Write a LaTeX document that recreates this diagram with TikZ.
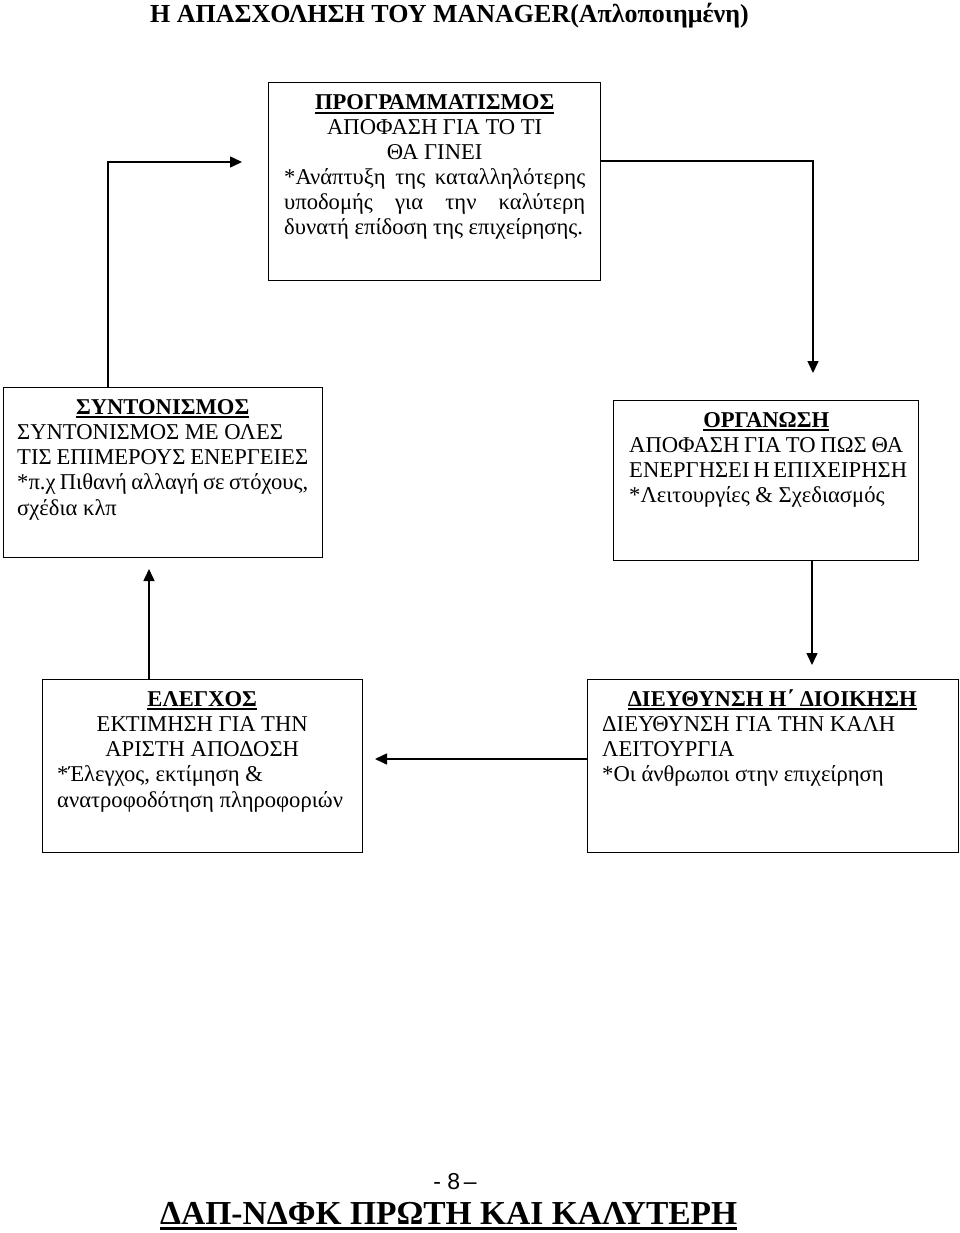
\documentclass[tikz,border=0pt]{standalone}
\usepackage{fontspec}
\setmainfont{Liberation Serif}
\newfontfamily\sansf{Liberation Sans}
\usetikzlibrary{arrows.meta,calc}
\newcommand\myul[1]{\vtop{\hbox{\bfseries #1}\kern2pt\hrule height1.5pt}}
\newcommand\lnC[1]{\hbox to\hsize{\hfil#1\hfil}}
\newcommand\lnL[1]{\hbox to\hsize{#1\hfil}}
\newcommand\lnJ[1]{\hbox to\hsize{#1}}
\begin{document}
\begin{tikzpicture}[x=1pt,y=-1pt,
  box/.style={draw, line width=1.4pt, inner sep=0pt, anchor=north west},
  conn/.style={line width=1.5pt, -{Triangle[length=12pt,width=11pt]}},
  txt/.style={inner sep=0pt, anchor=base west, font=\fontsize{22.6}{25.3}\selectfont}]
\fill[white] (0,0) rectangle (960,1233);
\useasboundingbox (0,0) rectangle (960,1233);

% title
\node[inner sep=0pt, anchor=base west, font=\fontsize{26}{30}\selectfont\bfseries] (title) at (150,23) {Η ΑΠΑΣΧΟΛΗΣΗ ΤΟΥ MANAGER(Απλοποιημένη)};

% boxes
\node[box, minimum width=332pt, minimum height=198pt] (plan) at (268,82) {};
\node[box, minimum width=319pt, minimum height=170pt] (sync) at (3,387) {};
\node[box, minimum width=305pt, minimum height=160pt] (org) at (613,400) {};
\node[box, minimum width=320pt, minimum height=173pt] (ctrl) at (42,679) {};
\node[box, minimum width=371pt, minimum height=173pt] (dir) at (587,679) {};

% texts
\node[txt] (plantxt) at (284,110) {\vtop{\hsize=301pt\baselineskip=25pt
  \lnC{\myul{ΠΡΟΓΡΑΜΜΑΤΙΣΜΟΣ}}
  \lnC{ΑΠΟΦΑΣΗ ΓΙΑ ΤΟ ΤΙ}
  \lnC{ΘΑ ΓΙΝΕΙ}
  \lnJ{*Ανάπτυξη\hfill της\hfill καταλληλότερης}
  \lnJ{υποδομής\hfill για\hfill την\hfill καλύτερη}
  \lnL{δυνατή επίδοση της επιχείρησης.}}};

\node[txt] (synctxt) at (17,414) {\vtop{\hsize=291pt\baselineskip=25.3pt
  \lnC{\myul{ΣΥΝΤΟΝΙΣΜΟΣ}}
  \lnL{ΣΥΝΤΟΝΙΣΜΟΣ ΜΕ ΟΛΕΣ}
  \lnL{ΤΙΣ ΕΠΙΜΕΡΟΥΣ ΕΝΕΡΓΕΙΕΣ}
  \lnL{*π.χ Πιθανή αλλαγή σε στόχους,}
  \lnL{σχέδια κλπ}}};

\node[txt] (orgtxt) at (629,427) {\vtop{\hsize=274pt\baselineskip=25.3pt
  \lnC{\myul{ΟΡΓΑΝΩΣΗ}}
  \lnL{ΑΠΟΦΑΣΗ ΓΙΑ ΤΟ ΠΩΣ ΘΑ}
  \lnL{ΕΝΕΡΓΗΣΕΙ Η ΕΠΙΧΕΙΡΗΣΗ}
  \lnL{*Λειτουργίες \& Σχεδιασμός}}};

\node[txt] (ctrltxt) at (57,706) {\vtop{\hsize=290pt\baselineskip=25.3pt
  \lnC{\myul{ΕΛΕΓΧΟΣ}}
  \lnC{ΕΚΤΙΜΗΣΗ ΓΙΑ ΤΗΝ}
  \lnC{ΑΡΙΣΤΗ ΑΠΟΔΟΣΗ}
  \lnL{*Έλεγχος, εκτίμηση \&}
  \lnL{ανατροφοδότηση πληροφοριών}}};

\node[txt] (dirtxt) at (602,706) {\vtop{\hsize=340pt\baselineskip=25.3pt
  \lnC{\myul{ΔΙΕΥΘΥΝΣΗ Η΄ ΔΙΟΙΚΗΣΗ}}
  \lnL{ΔΙΕΥΘΥΝΣΗ ΓΙΑ ΤΗΝ ΚΑΛΗ}
  \lnL{ΛΕΙΤΟΥΡΓΙΑ}
  \lnL{*Οι άνθρωποι στην επιχείρηση}}};

% connectors
\coordinate (c1) at (108,162);
\coordinate (e1) at (242,162);
\draw[conn] (sync.north -| c1) |- (e1);
\coordinate (c2) at (813,161);
\coordinate (e2) at (813,373);
\draw[conn] (c2 -| plan.east) -- (c2) -- (e2);
\coordinate (e3) at (812,665);
\draw[conn] (org.south -| e3) -- (e3);
\coordinate (e4) at (375,759);
\draw[conn] (dir.west |- e4) -- (e4);
\coordinate (e5) at (149,569);
\draw[conn] (ctrl.north -| e5) -- (e5);

% footer
\node[inner sep=0pt, anchor=base, font=\sansf\fontsize{23}{27}\selectfont] (page) at (455,1189) {-\ 8\,–};
\node[inner sep=0pt, anchor=base west, font=\fontsize{33.5}{38}\selectfont\bfseries] (foot) at (160,1224) {\vtop{\hbox{ΔΑΠ-ΝΔΦΚ ΠΡΩΤΗ ΚΑΙ ΚΑΛΥΤΕΡΗ}\kern2.5pt\hrule height3pt}};
\end{tikzpicture}
\end{document}
